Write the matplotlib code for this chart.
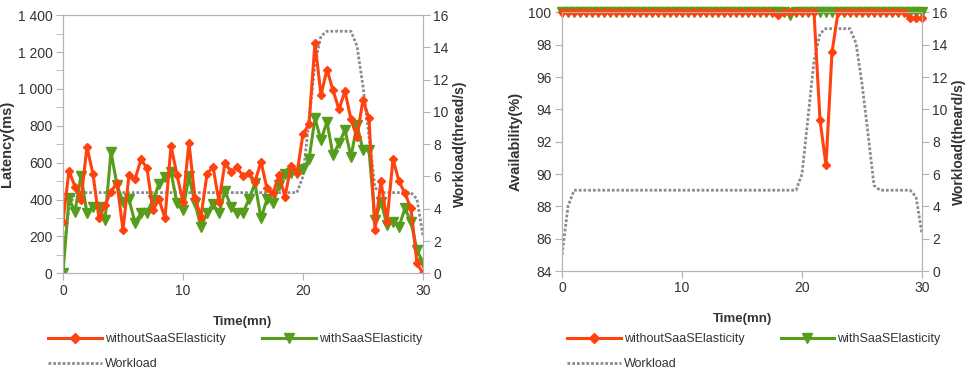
import numpy as np
import matplotlib.pyplot as plt
from matplotlib.ticker import FuncFormatter, MultipleLocator
from matplotlib.lines import Line2D

plt.rcParams['font.family'] = ['Liberation Sans', 'DejaVu Sans']

# --- datos (muestras cada 0.5 min) ---
tiempo = np.arange(61) * 0.5

latencia_sin = [280, 556, 470, 400, 686, 538, 298, 370, 442, 491,
                235, 533, 509, 618, 569, 343, 401, 298, 692, 533,
                388, 708, 406, 307, 538, 578, 388, 600, 551, 574,
                527, 542, 497, 605, 461, 433, 533, 415, 583, 542,
                755, 809, 1250, 966, 1105, 993, 889, 988, 834, 740,
                940, 840, 235, 500, 280, 619, 500, 433, 352, 54, 0]
latencia_con = [3, 406, 334, 529, 325, 361, 358, 289, 659, 479,
                388, 401, 275, 325, 329, 397, 484, 524, 551, 379,
                343, 527, 379, 253, 325, 376, 325, 448, 361, 325,
                329, 401, 488, 298, 401, 379, 479, 538, 545, 542,
                563, 618, 840, 722, 822, 641, 704, 777, 632, 804,
                668, 668, 289, 389, 262, 280, 253, 353, 280, 126, 58]

disp_sin = [100] * 61
disp_sin[36] = 99.84
disp_sin[43] = 93.34
disp_sin[44] = 90.56
disp_sin[45] = 97.53
disp_sin[58] = 99.63
disp_sin[59] = 99.63
disp_sin[60] = 99.63
disp_con = [100] * 61
disp_con[38] = 99.84

carga = [1, 4, 5, 5, 5, 5, 5, 5, 5, 5,
         5, 5, 5, 5, 5, 5, 5, 5, 5, 5,
         5, 5, 5, 5, 5, 5, 5, 5, 5, 5,
         5, 5, 5, 5, 5, 5, 5, 5, 5, 5,
         6, 9.5, 13, 14.7, 15, 15, 15, 15, 15, 14.1,
         11.6, 8.5, 5.3, 5, 5, 5, 5, 5, 5, 4.6, 2.3, 0]
carga = carga[:61]

ROJO = '#ff420e'
VERDE = '#579d1c'
GRIS = '#8c8c8c'
TXT = '#333333'
EJE = '#b3b3b3'

fig = plt.figure(figsize=(9.69, 3.78), dpi=100)


def decorar(ax, ax2):
    for a in (ax, ax2):
        for s in a.spines.values():
            s.set_color(EJE)
        a.tick_params(colors=EJE, labelcolor=TXT, labelsize=10, length=5, direction='out', pad=2.5)
        a.tick_params(which='minor', colors=EJE, length=5, direction='out')
    ax.set_xlim(0, 30)
    ax.xaxis.set_major_locator(MultipleLocator(10))
    ax.set_xlabel('Time(mn)', fontsize=9.5, fontweight='bold', color=TXT, labelpad=13)
    ax2.set_ylim(0, 16)
    ax2.yaxis.set_major_locator(MultipleLocator(2))
    # la serie principal por encima de la carga
    ax.set_zorder(ax2.get_zorder() + 1)
    ax.patch.set_visible(False)


def leyenda(x0, y0):
    h1 = Line2D([], [], color=ROJO, lw=2.2, marker='D', ms=5)
    h2 = Line2D([], [], color=VERDE, lw=2.2, marker='v', ms=7)
    h3 = Line2D([], [], color=GRIS, lw=2, ls=(0, (1, 0.7)))
    fig.legend([h1, h3, h2], ['withoutSaaSElasticity', 'Workload', 'withSaaSElasticity'],
               ncol=2, loc='upper left', bbox_to_anchor=(x0, y0), frameon=False,
               fontsize=9, labelcolor=TXT, handlelength=4.3, handletextpad=0.25,
               columnspacing=2.9, labelspacing=1.0, numpoints=1, borderaxespad=0,
               borderpad=0)


# --- latencia ---
ax = fig.add_axes([0.065, 0.277, 0.3715, 0.683])
ax2 = ax.twinx()
ax2.plot(tiempo, carga, color=GRIS, lw=2, ls=(0, (1, 0.7)))
ax.plot(tiempo, latencia_con, color=VERDE, lw=2.2, marker='v', ms=7)
ax.plot(tiempo, latencia_sin, color=ROJO, lw=2.2, marker='D', ms=4.5)
ax.set_ylim(0, 1400)
ax.yaxis.set_major_locator(MultipleLocator(200))
ax.yaxis.set_minor_locator(MultipleLocator(100))
ax.yaxis.set_major_formatter(FuncFormatter(lambda v, p: f"{int(v):,}".replace(',', ' ')))
decorar(ax, ax2)
ax.set_ylabel('Latency(ms)', fontsize=10.5, fontweight='bold', color=TXT, labelpad=3)
ax2.set_ylabel('Workload(thread/s)', fontsize=10, fontweight='bold', color=TXT, labelpad=3)
leyenda(0.05, 0.118)

# --- disponibilidad ---
bx = fig.add_axes([0.580, 0.283, 0.3715, 0.684])
bx2 = bx.twinx()
bx2.plot(tiempo, carga, color=GRIS, lw=2, ls=(0, (1, 0.7)))
bx.plot(tiempo, disp_con, color=VERDE, lw=2.2, marker='v', ms=7, clip_on=False)
bx.plot(tiempo, disp_sin, color=ROJO, lw=2.2, marker='D', ms=4.5, clip_on=False)
bx.set_ylim(84, 100)
bx.yaxis.set_major_locator(MultipleLocator(2))
decorar(bx, bx2)
bx.set_ylabel('Availability(%)', fontsize=10.5, fontweight='bold', color=TXT, labelpad=4)
bx2.set_ylabel('Workload(theard/s)', fontsize=10, fontweight='bold', color=TXT, labelpad=3)
leyenda(0.585, 0.118)

plt.savefig('out.png')
